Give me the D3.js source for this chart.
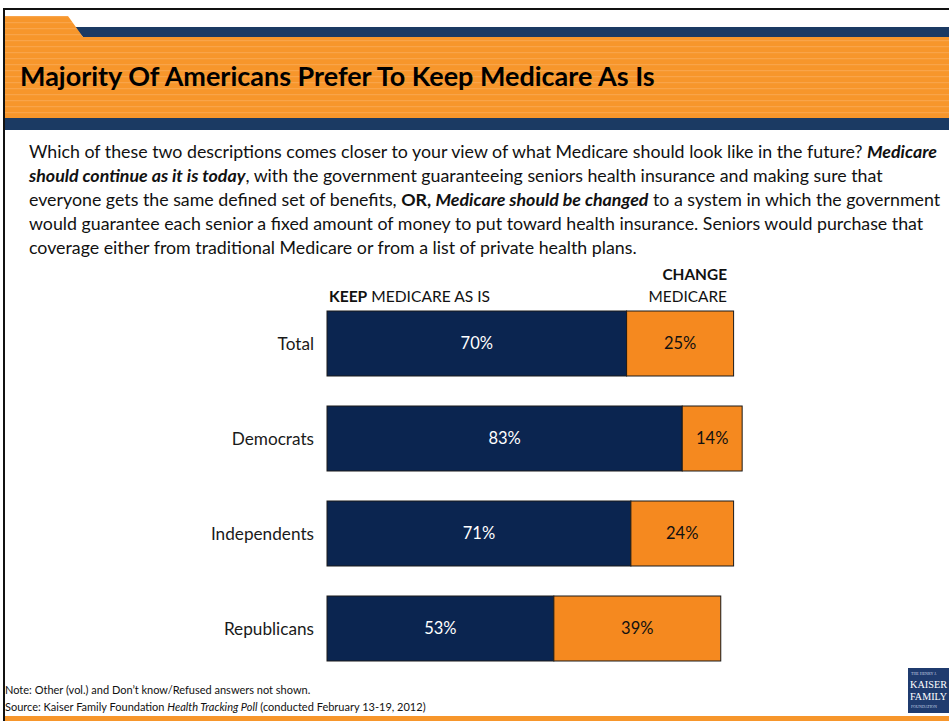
<!DOCTYPE html>
<html>
<head>
<meta charset="utf-8">
<script src="https://cdn.jsdelivr.net/npm/d3@7"></script>
<style>
  html, body { margin: 0; padding: 0; background: #fff; }
  svg { display: block; }
</style>
</head>
<body>
<svg id="chart" width="949" height="721"></svg>
<script>
// Survey results (percent)
const categories = ["Total", "Democrats", "Independents", "Republicans"];
const keepValues = [70, 83, 71, 53];
const changeValues = [25, 14, 24, 39];

const titleText = "Majority Of Americans Prefer To Keep Medicare As Is";
const noteText = "Note: Other (vol.) and Don\u2019t know/Refused answers not shown.";

const W = 949, H = 721;
const NAVY = "#0b2550", ORANGE = "#f5891f";
const FONT = "Lato, 'Open Sans', sans-serif";

const svg = d3.select("#chart");

// ---- slide frame & header ----
const defs = svg.append("defs");
const pat = defs.append("pattern").attr("id", "stripes")
  .attr("patternUnits", "userSpaceOnUse").attr("width", 10).attr("height", 6);
pat.append("rect").attr("width", 10).attr("height", 6).attr("fill", "#f7962b");
pat.append("rect").attr("y", 4).attr("width", 10).attr("height", 1.2).attr("fill", "#f9a449");

svg.append("polygon")
  .attr("points", "74,27 949,27 949,37 83,37")
  .attr("fill", "#1b3a63");
svg.append("polygon")
  .attr("points", "5,16 68,16 83,37 949,37 949,118 5,118")
  .attr("fill", "url(#stripes)");
svg.append("rect").attr("x", 5).attr("y", 118).attr("width", W - 5).attr("height", 12)
  .attr("fill", "#1b3a63");
svg.append("rect").attr("x", 5).attr("y", 716).attr("width", W - 5).attr("height", 5)
  .attr("fill", "#f7962b");
svg.append("path").attr("d", `M4,721 V9 H${W}`)
  .attr("fill", "none").attr("stroke", "#111").attr("stroke-width", 2);

// Fit a text element to a target width by tuning its font size
function fitWidth(sel, target) {
  const node = sel.node();
  const fs = parseFloat(sel.attr("font-size"));
  const w = node.getComputedTextLength();
  sel.attr("font-size", (fs * target / w).toFixed(2));
}

const title = svg.append("text")
  .attr("x", 20).attr("y", 86)
  .attr("font-family", FONT).attr("font-weight", 700)
  .attr("font-size", 22).attr("fill", "#000")
  .text(titleText);
fitWidth(title, 635);

// ---- question text ----
const qLines = [
  [["Which of these two descriptions comes closer to your view of what Medicare should look like in the future? ", ""], ["Medicare", "bi"]],
  [["should continue as it is today", "bi"], [", with the government guaranteeing seniors health insurance and making sure that", ""]],
  [["everyone gets the same defined set of benefits, ", ""], ["OR, ", "b"], ["Medicare should be changed", "bi"], [" to a system in which the government", ""]],
  [["would guarantee each senior a fixed amount of money to put toward health insurance. Seniors would purchase that", ""]],
  [["coverage either from traditional Medicare or from a list of private health plans.", ""]]
];
const q = svg.append("g").attr("font-family", FONT).attr("fill", "#111");
const qTexts = qLines.map((parts, i) => {
  const t = q.append("text").attr("x", 29).attr("y", 158 + i * 24)
    .attr("font-size", 16).attr("xml:space", "preserve");
  parts.forEach(([s, st]) => {
    t.append("tspan")
      .attr("font-weight", st.includes("b") ? 700 : 400)
      .attr("font-style", st.includes("i") ? "italic" : "normal")
      .text(s);
  });
  return t;
});
// scale the paragraph so the first line spans the text column
{
  const w = qTexts[0].node().getComputedTextLength();
  const fs = (16 * 909 / w).toFixed(2);
  qTexts.forEach(t => t.attr("font-size", fs));
}

// ---- bars ----
const x = d3.scaleLinear().domain([0, 100]).range([327, 755]);
const y = d3.scaleBand().domain(categories).range([296, 676])
  .paddingInner(0.3158).paddingOuter(0.1579);

const rows = categories.map((c, i) => ({ cat: c, keep: keepValues[i], change: changeValues[i] }));

const g = svg.append("g").attr("font-family", FONT);

g.selectAll("rect.keep").data(rows).join("rect")
  .attr("class", "keep")
  .attr("x", x(0)).attr("y", d => y(d.cat))
  .attr("width", d => x(d.keep) - x(0)).attr("height", y.bandwidth())
  .attr("fill", NAVY).attr("stroke", "#1a1a1a").attr("stroke-width", 1);

g.selectAll("rect.change").data(rows).join("rect")
  .attr("class", "change")
  .attr("x", d => x(d.keep)).attr("y", d => y(d.cat))
  .attr("width", d => x(d.keep + d.change) - x(d.keep)).attr("height", y.bandwidth())
  .attr("fill", ORANGE).attr("stroke", "#1a1a1a").attr("stroke-width", 1);

g.selectAll("text.kv").data(rows).join("text")
  .attr("class", "kv")
  .attr("x", d => (x(0) + x(d.keep)) / 2)
  .attr("y", d => y(d.cat) + y.bandwidth() / 2)
  .attr("dy", "0.35em").attr("text-anchor", "middle")
  .attr("font-size", 16.5).attr("fill", "#fff")
  .text(d => d.keep + "%");

g.selectAll("text.cv").data(rows).join("text")
  .attr("class", "cv")
  .attr("x", d => (x(d.keep) + x(d.keep + d.change)) / 2)
  .attr("y", d => y(d.cat) + y.bandwidth() / 2)
  .attr("dy", "0.35em").attr("text-anchor", "middle")
  .attr("font-size", 16.5).attr("fill", "#111")
  .text(d => d.change + "%");

g.selectAll("text.cat").data(rows).join("text")
  .attr("class", "cat")
  .attr("x", 314)
  .attr("y", d => y(d.cat) + y.bandwidth() / 2)
  .attr("dy", "0.35em").attr("text-anchor", "end")
  .attr("font-size", 17.2).attr("fill", "#1a1a1a")
  .text(d => d.cat);

// column headings
const h1 = g.append("text").attr("x", 329).attr("y", 302)
  .attr("font-size", 15.6).attr("fill", "#111").attr("xml:space", "preserve");
h1.append("tspan").attr("font-weight", 700).text("KEEP");
h1.append("tspan").text(" MEDICARE AS IS");

g.append("text").attr("x", 727).attr("y", 280)
  .attr("text-anchor", "end").attr("font-size", 15.4).attr("font-weight", 700)
  .attr("fill", "#111").text("CHANGE");
g.append("text").attr("x", 727).attr("y", 302)
  .attr("text-anchor", "end").attr("font-size", 15.4)
  .attr("fill", "#111").text("MEDICARE");

// ---- footnotes ----
const foot = svg.append("g").attr("font-family", FONT).attr("font-size", 11).attr("fill", "#111");
foot.append("text").attr("x", 5).attr("y", 694).text(noteText);
const src = foot.append("text").attr("x", 5).attr("y", 711).attr("xml:space", "preserve");
src.append("tspan").text("Source: Kaiser Family Foundation ");
src.append("tspan").attr("font-style", "italic").text("Health Tracking Poll");
src.append("tspan").text(" (conducted February 13-19, 2012)");

// ---- logo ----
const logo = svg.append("g").attr("font-family", "'Liberation Serif', serif").attr("fill", "#fff");
logo.append("rect").attr("x", 908).attr("y", 668).attr("width", 41).attr("height", 45).attr("fill", "#1f3b6e");
logo.append("text").attr("x", 911).attr("y", 675).attr("font-size", 4).attr("fill", "#c9d3e6").text("THE HENRY J.");
logo.append("text").attr("x", 910).attr("y", 688).attr("font-size", 10)
  .attr("textLength", 37).attr("lengthAdjust", "spacingAndGlyphs").text("KAISER");
logo.append("text").attr("x", 910).attr("y", 700).attr("font-size", 10)
  .attr("textLength", 37).attr("lengthAdjust", "spacingAndGlyphs").text("FAMILY");
logo.append("text").attr("x", 911).attr("y", 708).attr("font-size", 4).attr("fill", "#c9d3e6").text("FOUNDATION");
</script>
</body>
</html>
